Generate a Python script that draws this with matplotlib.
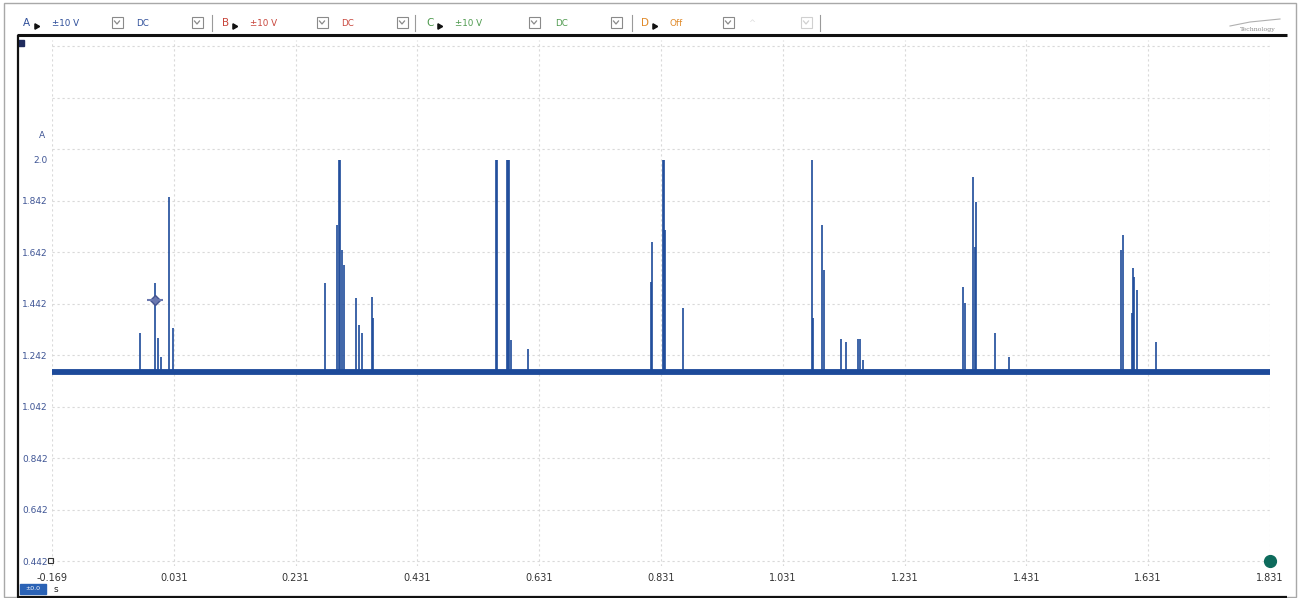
import matplotlib
matplotlib.use("Agg")
import matplotlib.pyplot as plt
from matplotlib.patches import Rectangle

# ---------------- data ----------------
t_start, t_end = -0.169, 1.831
baseline_level = 1.176

spike_times = [
    -0.0245, 0.000, 0.005, 0.010, 0.023, 0.030,
    0.279, 0.299, 0.302, 0.304, 0.307, 0.311, 0.330, 0.335, 0.340, 0.356, 0.358,
    0.560, 0.562, 0.578, 0.580, 0.581, 0.585, 0.613,
    0.815, 0.816, 0.834, 0.836, 0.838, 0.867,
    1.079, 1.081, 1.095, 1.099, 1.127, 1.135, 1.154, 1.158, 1.163,
    1.327, 1.330, 1.343, 1.347, 1.348, 1.379, 1.402,
    1.586, 1.590, 1.604, 1.606, 1.608, 1.613, 1.644,
]
spike_peaks = [
    1.327, 1.522, 1.308, 1.234, 1.856, 1.347,
    1.522, 1.747, 2.000, 2.000, 1.650, 1.592, 1.463, 1.359, 1.327, 1.467, 1.386,
    2.000, 2.000, 2.000, 2.000, 2.000, 1.300, 1.265,
    1.525, 1.681, 2.000, 2.000, 1.727, 1.425,
    2.000, 1.386, 1.747, 1.572, 1.304, 1.293, 1.304, 1.304, 1.223,
    1.506, 1.444, 1.933, 1.661, 1.836, 1.327, 1.234,
    1.650, 1.708, 1.405, 1.580, 1.545, 1.494, 1.293,
]

cursor_t, cursor_v = 0.000, 1.456
trigger_t, trigger_v = 1.831, 0.442

x_ticks = [-0.169, 0.031, 0.231, 0.431, 0.631, 0.831, 1.031, 1.231, 1.431, 1.631, 1.831]
x_tick_labels = ["-0.169", "0.031", "0.231", "0.431", "0.631", "0.831",
                 "1.031", "1.231", "1.431", "1.631", "1.831"]
y_ticks = [0.442, 0.642, 0.842, 1.042, 1.242, 1.442, 1.642, 1.842, 2.0]
y_tick_labels = ["0.442", "0.642", "0.842", "1.042", "1.242", "1.442", "1.642", "1.842", "2.0"]
grid_levels = [0.442, 0.642, 0.842, 1.042, 1.242, 1.442, 1.642, 1.842, 2.042, 2.242, 2.442]

toolbar_labels = ["A", "±10 V", "DC", "B", "±10 V", "DC", "C", "±10 V", "DC", "D", "Off"]
toolbar_colors = ["#2f4f9a", "#2f4f9a", "#2f4f9a", "#c8463c", "#c8463c", "#c8463c",
                  "#4e9a4e", "#4e9a4e", "#4e9a4e", "#e08a2a", "#e08a2a"]
toolbar_x = [23, 52, 136, 222, 250, 341, 426, 455, 555, 641, 670]
dropdown_x = [117, 197, 322, 402, 534, 616, 728, 806]
separator_x = [212, 415, 632, 820]
pointer_x = [36, 234, 439, 654]

# ---------------- figure ----------------
W, H = 1302, 598
fig = plt.figure(figsize=(W / 100, H / 100), dpi=100)
fig.patch.set_facecolor("white")

trace_color = "#1d4a9a"

ax = fig.add_axes([52 / W, 32 / H, 1218 / W, 526 / H])
ax.set_facecolor("white")
ax.set_xlim(t_start, t_end)
ax.set_ylim(0.4226, 2.4653)
for s in ax.spines.values():
    s.set_visible(False)

grid_kw = dict(color="#d9d9d9", lw=0.8, linestyle=(0, (2, 2.5)), zorder=0)
for gx in x_ticks:
    ax.axvline(gx, **grid_kw)
for gy in grid_levels:
    ax.axhline(gy, **grid_kw)

ax.set_xticks(x_ticks)
ax.set_xticklabels(x_tick_labels, fontsize=7, color="#333333")
ax.set_yticks(y_ticks)
ax.set_yticklabels(y_tick_labels, fontsize=6.5, color="#3f5595")
ax.tick_params(axis="both", length=0)
ax.tick_params(axis="x", pad=5)
ax.tick_params(axis="y", pad=3)

# baseline (noisy band) and spikes
ax.plot([t_start, t_end], [baseline_level, baseline_level], color=trace_color,
        lw=4.2, solid_capstyle="butt", zorder=3)
ax.vlines(spike_times, baseline_level, spike_peaks, color=trace_color, lw=1.2, zorder=3)

# cursor marker
ax.plot([cursor_t], [cursor_v], marker="D", ms=5, color="#6a78b0", mec="#44548f", zorder=5)
ax.plot([cursor_t], [cursor_v], marker="_", ms=12, mew=1.5, color="#6a78b0", zorder=5)

# trigger dot
ax.plot([trigger_t], [trigger_v], marker="o", ms=8.5, color="#0d6b5c", clip_on=False, zorder=6)

ax.text(-0.006, 2.096, "A", transform=ax.get_yaxis_transform(), ha="right", va="center",
        fontsize=6.5, color="#3f5595")

# ---------------- overlay (frame & toolbar) ----------------
ov = fig.add_axes([0, 0, 1, 1], zorder=10)
ov.set_xlim(0, W)
ov.set_ylim(H, 0)
ov.axis("off")
ov.patch.set_visible(False)

# outer gray border
ov.add_patch(Rectangle((4, 3), 1292, 594, fill=False, ec="#a8a8a8", lw=1.0))
# inner black frame
ov.plot([17, 1287], [35, 35], color="#111111", lw=2.2, solid_capstyle="butt")
ov.plot([17.5, 17.5], [35, 597], color="#111111", lw=1.6, solid_capstyle="butt")
ov.plot([17, 1287], [596.5, 596.5], color="#111111", lw=1.6, solid_capstyle="butt")

# small square top-left
ov.add_patch(Rectangle((18, 40), 6, 6, color="#1f2b5e"))
# small square at 0.442
ov.add_patch(Rectangle((48, 558), 5, 5, fill=False, ec="#333333", lw=0.8))

# toolbar
for x, lab, col in zip(toolbar_x, toolbar_labels, toolbar_colors):
    fs = 7.5 if len(lab) == 1 else 6.3
    ov.text(x, 23, lab, color=col, fontsize=fs, ha="left", va="center")
for x in pointer_x:
    ov.plot([x], [26], marker=(3, 0, 30), ms=4.5, color="#111111")
for x in dropdown_x:
    faint = x >= 800
    ec = "#d0d0d0" if faint else "#8a8a8a"
    ov.add_patch(Rectangle((x - 5, 17), 11, 11, fill=False, ec=ec, lw=0.8))
    ov.plot([x - 2.5, x, x + 2.5], [21, 24, 21], color=ec, lw=0.9)
for x in separator_x:
    ov.plot([x, x], [15, 31], color="#9a9a9a", lw=0.8)
ov.text(748, 23, "^", color="#dddddd", fontsize=6, ha="left", va="center")

# logo
ov.plot([1230, 1250, 1280], [26, 22, 19], color="#b0b0b0", lw=0.8)
ov.text(1258, 30, "Technology", color="#8a8a8a", fontsize=4.5, ha="center", va="center",
        family="DejaVu Serif")

# bottom-left zoom box and unit
ov.add_patch(Rectangle((20, 584), 26, 10, color="#2a62b5"))
ov.text(33, 589, "±0.0", color="white", fontsize=4.5, ha="center", va="center")
ov.text(54, 590, "s", color="#222222", fontsize=6.5, ha="left", va="center")

fig.savefig("out.png", dpi=100)
